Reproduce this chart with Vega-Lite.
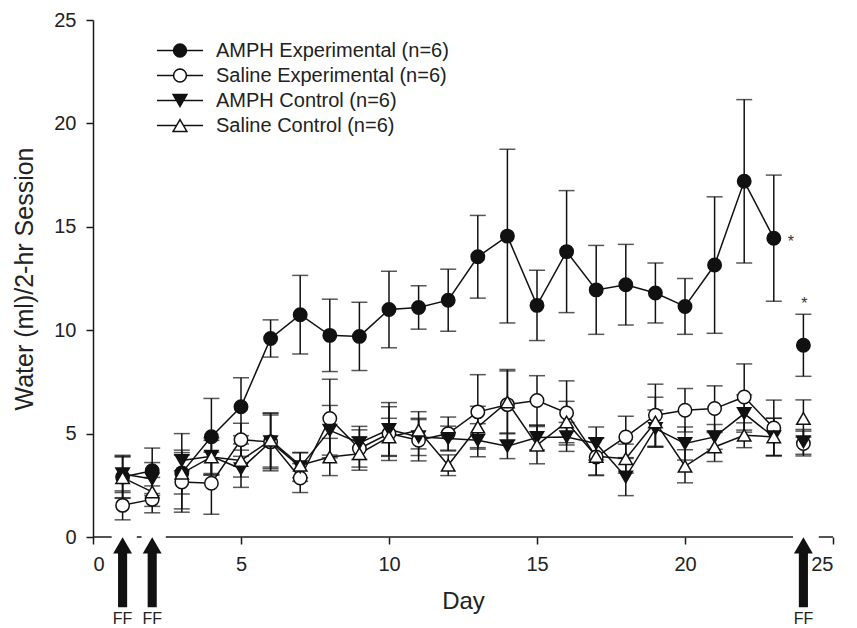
{
  "$schema": "https://vega.github.io/schema/vega-lite/v6.json",
  "width": 740,
  "height": 517,
  "autosize": "none",
  "padding": {"left": 93, "top": 20, "right": 24, "bottom": 91},
  "background": "white",
  "config": {
    "font": "Liberation Sans",
    "view": {"stroke": null},
    "axis": {"grid": false, "domainColor": "#1a1a1a", "tickColor": "#1a1a1a", "labelColor": "#222", "titleColor": "#222", "labelFontSize": 20, "titleFontSize": 24, "titleFontWeight": "normal", "domainWidth": 1.5, "tickWidth": 1.5, "tickSize": 7, "tickCount": 5},
    "axisX": {"domain": false, "labelPadding": 10, "titlePadding": 15},
    "axisY": {"labelPadding": 10, "titlePadding": 16, "titleFontSize": 25}
  },
  "resolve": {"scale": {"shape": "independent", "fill": "independent"}},
  "datasets": {
    "series": [
      {"g": "AMPH Experimental (n=6)", "day": 1, "mean": 2.9, "lo": 1.9, "hi": 3.9, "seg": 1},
      {"g": "AMPH Experimental (n=6)", "day": 2, "mean": 3.2, "lo": 2.1, "hi": 4.3, "seg": 1},
      {"g": "AMPH Experimental (n=6)", "day": 3, "mean": 3.1, "lo": 1.2, "hi": 5.0, "seg": 2},
      {"g": "AMPH Experimental (n=6)", "day": 4, "mean": 4.85, "lo": 3.0, "hi": 6.7, "seg": 2},
      {"g": "AMPH Experimental (n=6)", "day": 5, "mean": 6.3, "lo": 4.9, "hi": 7.7, "seg": 2},
      {"g": "AMPH Experimental (n=6)", "day": 6, "mean": 9.6, "lo": 8.7, "hi": 10.5, "seg": 2},
      {"g": "AMPH Experimental (n=6)", "day": 7, "mean": 10.75, "lo": 8.85, "hi": 12.65, "seg": 2},
      {"g": "AMPH Experimental (n=6)", "day": 8, "mean": 9.75, "lo": 8.0, "hi": 11.5, "seg": 2},
      {"g": "AMPH Experimental (n=6)", "day": 9, "mean": 9.7, "lo": 8.05, "hi": 11.35, "seg": 2},
      {"g": "AMPH Experimental (n=6)", "day": 10, "mean": 11.0, "lo": 9.15, "hi": 12.85, "seg": 2},
      {"g": "AMPH Experimental (n=6)", "day": 11, "mean": 11.1, "lo": 10.05, "hi": 12.15, "seg": 2},
      {"g": "AMPH Experimental (n=6)", "day": 12, "mean": 11.45, "lo": 9.95, "hi": 12.95, "seg": 2},
      {"g": "AMPH Experimental (n=6)", "day": 13, "mean": 13.55, "lo": 11.55, "hi": 15.55, "seg": 2},
      {"g": "AMPH Experimental (n=6)", "day": 14, "mean": 14.55, "lo": 10.35, "hi": 18.75, "seg": 2},
      {"g": "AMPH Experimental (n=6)", "day": 15, "mean": 11.2, "lo": 9.5, "hi": 12.9, "seg": 2},
      {"g": "AMPH Experimental (n=6)", "day": 16, "mean": 13.8, "lo": 10.85, "hi": 16.75, "seg": 2},
      {"g": "AMPH Experimental (n=6)", "day": 17, "mean": 11.95, "lo": 9.8, "hi": 14.1, "seg": 2},
      {"g": "AMPH Experimental (n=6)", "day": 18, "mean": 12.2, "lo": 10.25, "hi": 14.15, "seg": 2},
      {"g": "AMPH Experimental (n=6)", "day": 19, "mean": 11.8, "lo": 10.35, "hi": 13.25, "seg": 2},
      {"g": "AMPH Experimental (n=6)", "day": 20, "mean": 11.15, "lo": 9.8, "hi": 12.5, "seg": 2},
      {"g": "AMPH Experimental (n=6)", "day": 21, "mean": 13.15, "lo": 9.85, "hi": 16.45, "seg": 2},
      {"g": "AMPH Experimental (n=6)", "day": 22, "mean": 17.2, "lo": 13.25, "hi": 21.15, "seg": 2},
      {"g": "AMPH Experimental (n=6)", "day": 23, "mean": 14.45, "lo": 11.4, "hi": 17.5, "seg": 2},
      {"g": "AMPH Experimental (n=6)", "day": 24, "mean": 9.27, "lo": 7.77, "hi": 10.77, "seg": 3},
      {"g": "Saline Experimental (n=6)", "day": 1, "mean": 1.53, "lo": 0.83, "hi": 2.23, "seg": 1},
      {"g": "Saline Experimental (n=6)", "day": 2, "mean": 1.82, "lo": 1.17, "hi": 2.47, "seg": 1},
      {"g": "Saline Experimental (n=6)", "day": 3, "mean": 2.66, "lo": 1.36, "hi": 3.96, "seg": 2},
      {"g": "Saline Experimental (n=6)", "day": 4, "mean": 2.6, "lo": 1.1, "hi": 4.1, "seg": 2},
      {"g": "Saline Experimental (n=6)", "day": 5, "mean": 4.7, "lo": 3.9, "hi": 5.5, "seg": 2},
      {"g": "Saline Experimental (n=6)", "day": 6, "mean": 4.6, "lo": 3.3, "hi": 5.9, "seg": 2},
      {"g": "Saline Experimental (n=6)", "day": 7, "mean": 2.85, "lo": 2.15, "hi": 3.55, "seg": 2},
      {"g": "Saline Experimental (n=6)", "day": 8, "mean": 5.73, "lo": 3.83, "hi": 7.63, "seg": 2},
      {"g": "Saline Experimental (n=6)", "day": 9, "mean": 4.28, "lo": 3.38, "hi": 5.18, "seg": 2},
      {"g": "Saline Experimental (n=6)", "day": 10, "mean": 5.0, "lo": 3.7, "hi": 6.3, "seg": 2},
      {"g": "Saline Experimental (n=6)", "day": 11, "mean": 4.68, "lo": 3.68, "hi": 5.68, "seg": 2},
      {"g": "Saline Experimental (n=6)", "day": 12, "mean": 5.0, "lo": 4.2, "hi": 5.8, "seg": 2},
      {"g": "Saline Experimental (n=6)", "day": 13, "mean": 6.05, "lo": 4.25, "hi": 7.85, "seg": 2},
      {"g": "Saline Experimental (n=6)", "day": 14, "mean": 6.4, "lo": 4.7, "hi": 8.1, "seg": 2},
      {"g": "Saline Experimental (n=6)", "day": 15, "mean": 6.6, "lo": 5.4, "hi": 7.8, "seg": 2},
      {"g": "Saline Experimental (n=6)", "day": 16, "mean": 6.0, "lo": 4.45, "hi": 7.55, "seg": 2},
      {"g": "Saline Experimental (n=6)", "day": 17, "mean": 3.87, "lo": 2.97, "hi": 4.77, "seg": 2},
      {"g": "Saline Experimental (n=6)", "day": 18, "mean": 4.84, "lo": 3.84, "hi": 5.84, "seg": 2},
      {"g": "Saline Experimental (n=6)", "day": 19, "mean": 5.89, "lo": 4.39, "hi": 7.39, "seg": 2},
      {"g": "Saline Experimental (n=6)", "day": 20, "mean": 6.13, "lo": 5.08, "hi": 7.18, "seg": 2},
      {"g": "Saline Experimental (n=6)", "day": 21, "mean": 6.21, "lo": 5.11, "hi": 7.31, "seg": 2},
      {"g": "Saline Experimental (n=6)", "day": 22, "mean": 6.77, "lo": 5.17, "hi": 8.37, "seg": 2},
      {"g": "Saline Experimental (n=6)", "day": 23, "mean": 5.27, "lo": 3.92, "hi": 6.62, "seg": 2},
      {"g": "Saline Experimental (n=6)", "day": 24, "mean": 4.52, "lo": 3.92, "hi": 5.12, "seg": 3},
      {"g": "AMPH Control (n=6)", "day": 1, "mean": 3.05, "lo": 2.15, "hi": 3.95, "seg": 1},
      {"g": "AMPH Control (n=6)", "day": 2, "mean": 2.8, "lo": 2.0, "hi": 3.6, "seg": 1},
      {"g": "AMPH Control (n=6)", "day": 3, "mean": 3.7, "lo": 3.2, "hi": 4.2, "seg": 2},
      {"g": "AMPH Control (n=6)", "day": 4, "mean": 3.9, "lo": 3.0, "hi": 4.8, "seg": 2},
      {"g": "AMPH Control (n=6)", "day": 5, "mean": 3.3, "lo": 2.4, "hi": 4.2, "seg": 2},
      {"g": "AMPH Control (n=6)", "day": 6, "mean": 4.6, "lo": 3.2, "hi": 6.0, "seg": 2},
      {"g": "AMPH Control (n=6)", "day": 7, "mean": 3.39, "lo": 2.69, "hi": 4.09, "seg": 2},
      {"g": "AMPH Control (n=6)", "day": 8, "mean": 5.16, "lo": 3.96, "hi": 6.36, "seg": 2},
      {"g": "AMPH Control (n=6)", "day": 9, "mean": 4.55, "lo": 3.75, "hi": 5.35, "seg": 2},
      {"g": "AMPH Control (n=6)", "day": 10, "mean": 5.2, "lo": 3.9, "hi": 6.5, "seg": 2},
      {"g": "AMPH Control (n=6)", "day": 11, "mean": 4.84, "lo": 3.94, "hi": 5.74, "seg": 2},
      {"g": "AMPH Control (n=6)", "day": 12, "mean": 4.76, "lo": 4.16, "hi": 5.36, "seg": 2},
      {"g": "AMPH Control (n=6)", "day": 13, "mean": 4.68, "lo": 3.88, "hi": 5.48, "seg": 2},
      {"g": "AMPH Control (n=6)", "day": 14, "mean": 4.39, "lo": 3.79, "hi": 4.99, "seg": 2},
      {"g": "AMPH Control (n=6)", "day": 15, "mean": 4.81, "lo": 4.21, "hi": 5.41, "seg": 2},
      {"g": "AMPH Control (n=6)", "day": 16, "mean": 4.84, "lo": 4.14, "hi": 5.54, "seg": 2},
      {"g": "AMPH Control (n=6)", "day": 17, "mean": 4.52, "lo": 3.72, "hi": 5.32, "seg": 2},
      {"g": "AMPH Control (n=6)", "day": 18, "mean": 2.9, "lo": 2.0, "hi": 3.8, "seg": 2},
      {"g": "AMPH Control (n=6)", "day": 19, "mean": 5.24, "lo": 4.34, "hi": 6.14, "seg": 2},
      {"g": "AMPH Control (n=6)", "day": 20, "mean": 4.52, "lo": 3.72, "hi": 5.32, "seg": 2},
      {"g": "AMPH Control (n=6)", "day": 21, "mean": 4.84, "lo": 4.24, "hi": 5.44, "seg": 2},
      {"g": "AMPH Control (n=6)", "day": 22, "mean": 5.97, "lo": 5.07, "hi": 6.87, "seg": 2},
      {"g": "AMPH Control (n=6)", "day": 23, "mean": 4.84, "lo": 3.94, "hi": 5.74, "seg": 2},
      {"g": "AMPH Control (n=6)", "day": 24, "mean": 4.6, "lo": 4.0, "hi": 5.2, "seg": 3},
      {"g": "Saline Control (n=6)", "day": 1, "mean": 2.87, "lo": 1.87, "hi": 3.87, "seg": 1},
      {"g": "Saline Control (n=6)", "day": 2, "mean": 2.18, "lo": 1.48, "hi": 2.88, "seg": 1},
      {"g": "Saline Control (n=6)", "day": 3, "mean": 3.08, "lo": 2.08, "hi": 4.08, "seg": 2},
      {"g": "Saline Control (n=6)", "day": 4, "mean": 3.87, "lo": 3.07, "hi": 4.67, "seg": 2},
      {"g": "Saline Control (n=6)", "day": 5, "mean": 3.7, "lo": 2.9, "hi": 4.5, "seg": 2},
      {"g": "Saline Control (n=6)", "day": 6, "mean": 4.68, "lo": 3.38, "hi": 5.98, "seg": 2},
      {"g": "Saline Control (n=6)", "day": 7, "mean": 3.47, "lo": 2.87, "hi": 4.07, "seg": 2},
      {"g": "Saline Control (n=6)", "day": 8, "mean": 3.87, "lo": 2.97, "hi": 4.77, "seg": 2},
      {"g": "Saline Control (n=6)", "day": 9, "mean": 4.03, "lo": 3.23, "hi": 4.83, "seg": 2},
      {"g": "Saline Control (n=6)", "day": 10, "mean": 4.84, "lo": 3.94, "hi": 5.74, "seg": 2},
      {"g": "Saline Control (n=6)", "day": 11, "mean": 5.16, "lo": 4.26, "hi": 6.06, "seg": 2},
      {"g": "Saline Control (n=6)", "day": 12, "mean": 3.47, "lo": 2.97, "hi": 3.97, "seg": 2},
      {"g": "Saline Control (n=6)", "day": 13, "mean": 5.32, "lo": 4.32, "hi": 6.32, "seg": 2},
      {"g": "Saline Control (n=6)", "day": 14, "mean": 6.53, "lo": 5.03, "hi": 8.03, "seg": 2},
      {"g": "Saline Control (n=6)", "day": 15, "mean": 4.44, "lo": 3.54, "hi": 5.34, "seg": 2},
      {"g": "Saline Control (n=6)", "day": 16, "mean": 5.56, "lo": 4.56, "hi": 6.56, "seg": 2},
      {"g": "Saline Control (n=6)", "day": 17, "mean": 3.9, "lo": 3.0, "hi": 4.8, "seg": 2},
      {"g": "Saline Control (n=6)", "day": 18, "mean": 3.79, "lo": 3.09, "hi": 4.49, "seg": 2},
      {"g": "Saline Control (n=6)", "day": 19, "mean": 5.56, "lo": 4.36, "hi": 6.76, "seg": 2},
      {"g": "Saline Control (n=6)", "day": 20, "mean": 3.42, "lo": 2.62, "hi": 4.22, "seg": 2},
      {"g": "Saline Control (n=6)", "day": 21, "mean": 4.35, "lo": 3.65, "hi": 5.05, "seg": 2},
      {"g": "Saline Control (n=6)", "day": 22, "mean": 4.92, "lo": 4.32, "hi": 5.52, "seg": 2},
      {"g": "Saline Control (n=6)", "day": 23, "mean": 4.84, "lo": 3.94, "hi": 5.74, "seg": 2},
      {"g": "Saline Control (n=6)", "day": 24, "mean": 5.73, "lo": 4.83, "hi": 6.63, "seg": 3}
    ],
    "axisline": [
      {"day": 0, "day_end": 0.63},
      {"day": 1.48, "day_end": 1.64},
      {"day": 2.46, "day_end": 23.65},
      {"day": 24.52, "day_end": 25}
    ],
    "ff": [
      {"day": 1, "label": "FF"},
      {"day": 2, "label": "FF"},
      {"day": 24, "label": "FF"}
    ]
  },
  "layer": [
    {
      "data": {"name": "axisline"},
      "mark": {"type": "rule", "stroke": "#1a1a1a", "strokeWidth": 1.5},
      "encoding": {
        "x": {"field": "day", "type": "quantitative", "scale": {"domain": [0, 25], "nice": false}, "title": "Day"},
        "x2": {"field": "day_end"},
        "y": {"datum": 0, "type": "quantitative", "scale": {"domain": [0, 25], "nice": false}, "title": "Water (ml)/2-hr Session"}
      }
    },
    {
      "data": {"name": "series"},
      "mark": {"type": "rule", "stroke": "#111", "strokeWidth": 1.5},
      "encoding": {
        "x": {"field": "day", "type": "quantitative", "title": "Day"},
        "y": {"field": "lo", "type": "quantitative", "title": "Water (ml)/2-hr Session"},
        "y2": {"field": "hi"}
      }
    },
    {
      "data": {"name": "series"},
      "mark": {"type": "tick", "orient": "horizontal", "size": 16, "thickness": 1.5, "color": "#111"},
      "encoding": {
        "x": {"field": "day", "type": "quantitative", "title": "Day"},
        "y": {"field": "lo", "type": "quantitative", "title": "Water (ml)/2-hr Session"}
      }
    },
    {
      "data": {"name": "series"},
      "mark": {"type": "tick", "orient": "horizontal", "size": 16, "thickness": 1.5, "color": "#111"},
      "encoding": {
        "x": {"field": "day", "type": "quantitative", "title": "Day"},
        "y": {"field": "hi", "type": "quantitative", "title": "Water (ml)/2-hr Session"}
      }
    },
    {
      "data": {"name": "series"},
      "mark": {"type": "line", "stroke": "#111", "strokeWidth": 1.5},
      "encoding": {
        "x": {"field": "day", "type": "quantitative", "title": "Day"},
        "y": {"field": "mean", "type": "quantitative", "title": "Water (ml)/2-hr Session"},
        "detail": [{"field": "g"}, {"field": "seg"}],
        "order": {"field": "day"}
      }
    },
    {
      "data": {"name": "series"},
      "mark": {"type": "point", "filled": true, "stroke": "#111", "strokeWidth": 1.5, "opacity": 1, "size": 180},
      "encoding": {
        "x": {"field": "day", "type": "quantitative", "title": "Day"},
        "y": {"field": "mean", "type": "quantitative", "title": "Water (ml)/2-hr Session"},
        "shape": {
          "field": "g", "type": "nominal",
          "scale": {"domain": ["AMPH Experimental (n=6)", "Saline Experimental (n=6)", "AMPH Control (n=6)", "Saline Control (n=6)"], "range": ["circle", "circle", "triangle-down", "triangle-up"]},
          "legend": null
        },
        "fill": {
          "field": "g", "type": "nominal",
          "scale": {"domain": ["AMPH Experimental (n=6)", "Saline Experimental (n=6)", "AMPH Control (n=6)", "Saline Control (n=6)"], "range": ["#111111", "#ffffff", "#111111", "#ffffff"]},
          "legend": null
        }
      }
    },
    {
      "data": {"values": []},
      "mark": {"type": "point", "filled": true, "stroke": "#111", "strokeWidth": 1.5, "opacity": 1},
      "encoding": {
        "shape": {
          "field": "g", "type": "nominal",
          "scale": {"domain": ["AMPH Experimental (n=6)", "Saline Experimental (n=6)", "AMPH Control (n=6)", "Saline Control (n=6)"], "range": [
            "M-1,0L-0.28,0M0.28,0L1,0M0.28,0L0.2587,0.1072L0.198,0.198L0.1072,0.2587L0,0.28L-0.1072,0.2587L-0.198,0.198L-0.2587,0.1072L-0.28,0L-0.2587,-0.1072L-0.198,-0.198L-0.1072,-0.2587L0,-0.28L0.1072,-0.2587L0.198,-0.198L0.2587,-0.1072Z",
            "M-1,0L-0.28,0M0.28,0L1,0M0.28,0L0.2587,0.1072L0.198,0.198L0.1072,0.2587L0,0.28L-0.1072,0.2587L-0.198,0.198L-0.2587,0.1072L-0.28,0L-0.2587,-0.1072L-0.198,-0.198L-0.1072,-0.2587L0,-0.28L0.1072,-0.2587L0.198,-0.198L0.2587,-0.1072Z",
            "M-1,0L-0.15,0M0.15,0L1,0M-0.3,-0.26L0.3,-0.26L0,0.26Z",
            "M-1,0L-0.15,0M0.15,0L1,0M0,-0.26L0.3,0.26L-0.3,0.26Z"
          ]},
          "legend": {
            "title": null, "orient": "none", "legendX": 63, "legendY": 18, "padding": 0,
            "labelFontSize": 20, "labelColor": "#222", "labelOffset": 12, "labelLimit": 400,
            "clipHeight": 25, "rowPadding": 0, "symbolSize": 2116, "symbolStrokeWidth": 1.5
          }
        },
        "fill": {
          "field": "g", "type": "nominal",
          "scale": {"domain": ["AMPH Experimental (n=6)", "Saline Experimental (n=6)", "AMPH Control (n=6)", "Saline Control (n=6)"], "range": ["#111111", "#ffffff", "#111111", "#ffffff"]},
          "legend": {
            "title": null, "orient": "none", "legendX": 63, "legendY": 18, "padding": 0,
            "labelFontSize": 20, "labelColor": "#222", "labelOffset": 12, "labelLimit": 400,
            "clipHeight": 25, "rowPadding": 0, "symbolSize": 2116, "symbolStrokeWidth": 1.5
          }
        }
      }
    },
    {
      "data": {"values": [{"day": 23, "mean": 14.45, "label": "*"}]},
      "mark": {"type": "text", "fontSize": 16, "color": "#333", "dx": 17, "dy": 4, "baseline": "middle"},
      "encoding": {
        "x": {"field": "day", "type": "quantitative", "title": "Day"},
        "y": {"field": "mean", "type": "quantitative", "title": "Water (ml)/2-hr Session"},
        "text": {"field": "label"}
      }
    },
    {
      "data": {"values": [{"day": 24, "hi": 10.77, "label": "*"}]},
      "mark": {"type": "text", "fontSize": 16, "color": "#333", "dx": 1, "dy": -10, "baseline": "middle"},
      "encoding": {
        "x": {"field": "day", "type": "quantitative", "title": "Day"},
        "y": {"field": "hi", "type": "quantitative", "title": "Water (ml)/2-hr Session"},
        "text": {"field": "label"}
      }
    },
    {
      "data": {"name": "ff"},
      "mark": {"type": "point", "shape": "M0,-1L0.27,-0.54L0.13,-0.54L0.13,1L-0.13,1L-0.13,-0.54L-0.27,-0.54Z", "size": 4900, "filled": true, "fill": "#111", "strokeWidth": 0, "opacity": 1},
      "encoding": {
        "x": {"field": "day", "type": "quantitative", "title": "Day"},
        "y": {"datum": -1.71, "type": "quantitative", "title": "Water (ml)/2-hr Session"}
      }
    },
    {
      "data": {"name": "ff"},
      "mark": {"type": "text", "fontSize": 16, "color": "#222", "baseline": "alphabetic", "align": "center"},
      "encoding": {
        "x": {"field": "day", "type": "quantitative", "title": "Day"},
        "y": {"datum": -4.19, "type": "quantitative", "title": "Water (ml)/2-hr Session"},
        "text": {"field": "label"}
      }
    }
  ]
}
